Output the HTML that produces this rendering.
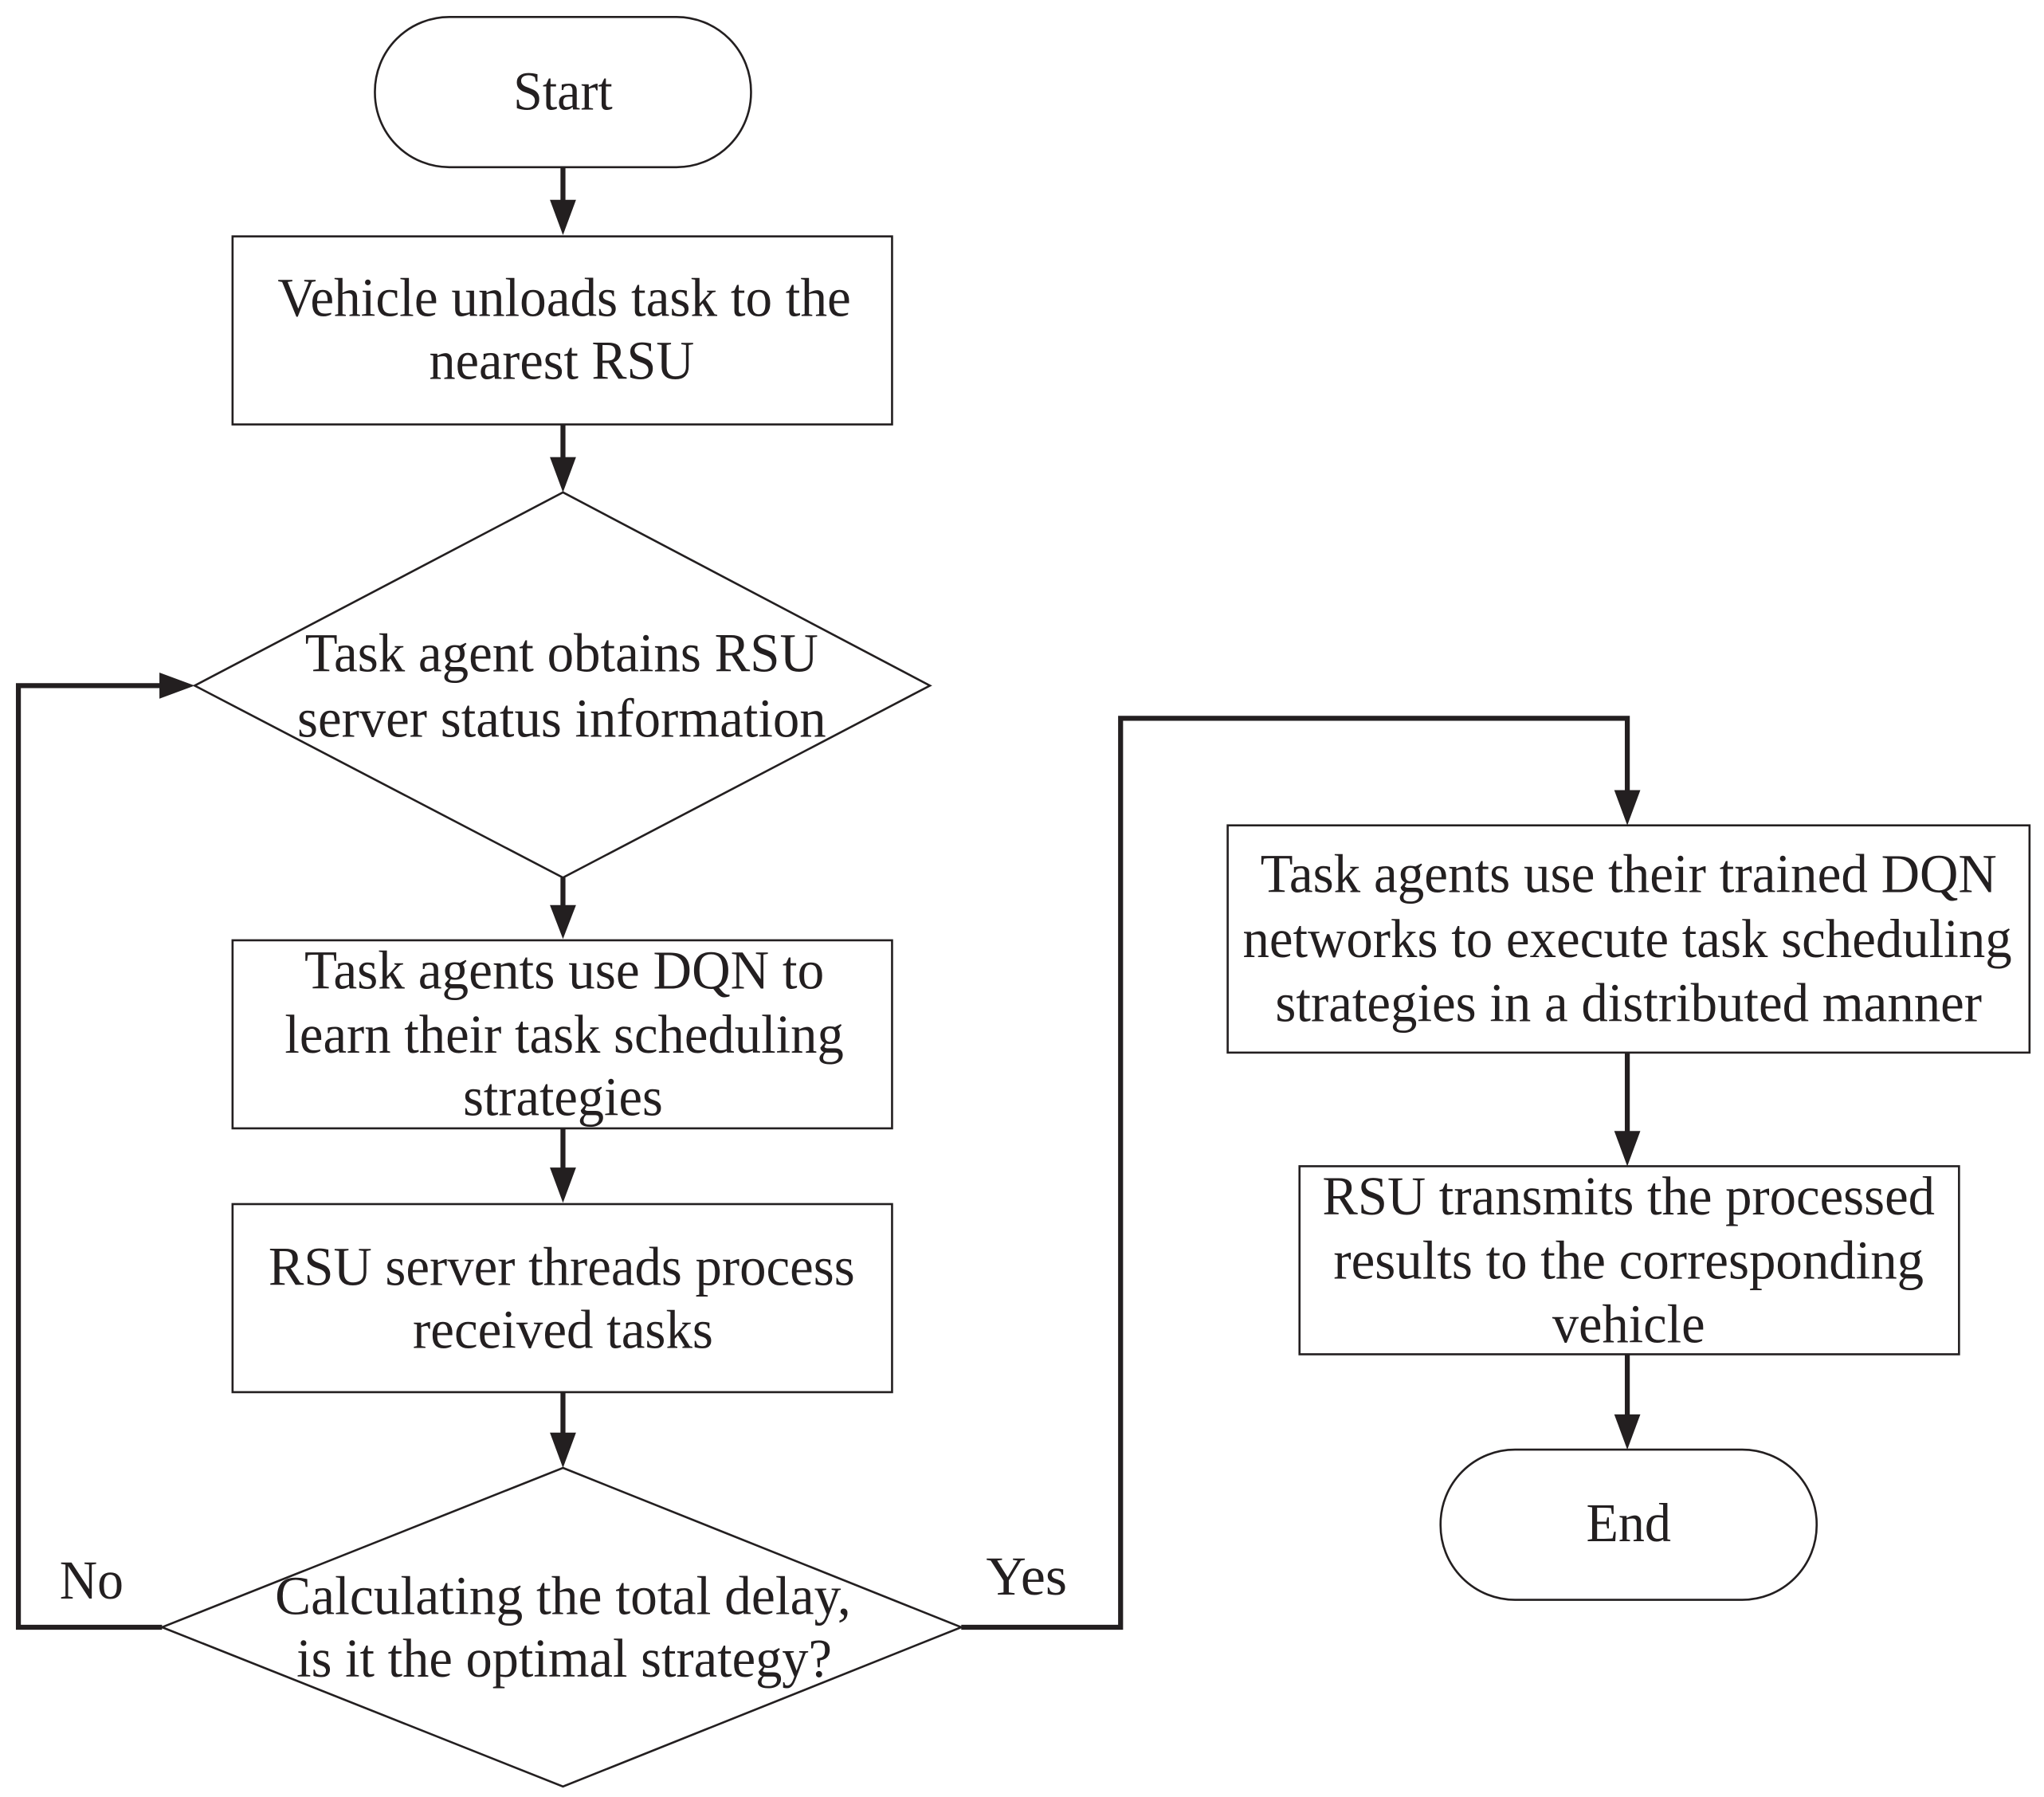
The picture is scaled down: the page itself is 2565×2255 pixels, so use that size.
<!DOCTYPE html>
<html><head><style>html,body{margin:0;padding:0;background:#fff}svg{display:block}</style></head>
<body>
<svg width="2565" height="2255" viewBox="0 0 1565 1376" xmlns="http://www.w3.org/2000/svg">
<g fill="none" stroke="#231f20" stroke-width="1.6">
<rect x="287" y="13" width="288" height="115" rx="57" ry="57"/>
<rect x="178" y="181" width="505" height="144"/>
<polygon points="431,377 712,525 431,672 149,525"/>
<rect x="178" y="720" width="505" height="144"/>
<rect x="178" y="922" width="505" height="144"/>
<polygon points="431,1124 736,1246 431,1368 124,1246"/>
<rect x="940" y="632" width="614" height="174"/>
<rect x="995" y="893" width="505" height="144"/>
<rect x="1103" y="1110" width="288" height="115" rx="57" ry="57"/>
</g>
<g fill="#231f20">
<path d="M431,128 V172" stroke="#231f20" stroke-width="3.8"/>
<polygon points="421,153 441,153 431,180"/>
<path d="M431,325 V369" stroke="#231f20" stroke-width="3.8"/>
<polygon points="421,350 441,350 431,377"/>
<path d="M431,672 V711" stroke="#231f20" stroke-width="3.8"/>
<polygon points="421,693 441,693 431,719"/>
<path d="M431,864 V913" stroke="#231f20" stroke-width="3.8"/>
<polygon points="421,894 441,894 431,921"/>
<path d="M431,1066 V1116" stroke="#231f20" stroke-width="3.8"/>
<polygon points="421,1097 441,1097 431,1124"/>
<path d="M124,1246 H14 V525 H140" fill="none" stroke="#231f20" stroke-width="3.8"/>
<polygon points="122,515 122,535 149,525"/>
<path d="M736,1246 H858 V550 H1246 V622" fill="none" stroke="#231f20" stroke-width="3.8"/>
<polygon points="1236,605 1256,605 1246,632"/>
<path d="M1246,806 V885" stroke="#231f20" stroke-width="3.8"/>
<polygon points="1236,866 1256,866 1246,893"/>
<path d="M1246,1037 V1102" stroke="#231f20" stroke-width="3.8"/>
<polygon points="1236,1083 1256,1083 1246,1110"/>
</g>
<g font-family="Liberation Serif, serif" font-size="42" fill="#231f20" text-anchor="middle">
<text x="431" y="84" textLength="76" lengthAdjust="spacingAndGlyphs">Start</text>
<text x="432" y="242" textLength="439" lengthAdjust="spacingAndGlyphs">Vehicle unloads task to the</text>
<text x="430" y="290" textLength="203" lengthAdjust="spacingAndGlyphs">nearest RSU</text>
<text x="430" y="514" textLength="393" lengthAdjust="spacingAndGlyphs">Task agent obtains RSU</text>
<text x="430" y="564" textLength="405" lengthAdjust="spacingAndGlyphs">server status information</text>
<text x="432" y="757" textLength="398" lengthAdjust="spacingAndGlyphs">Task agents use DQN to</text>
<text x="432" y="806" textLength="428" lengthAdjust="spacingAndGlyphs">learn their task scheduling</text>
<text x="431" y="854" textLength="153" lengthAdjust="spacingAndGlyphs">strategies</text>
<text x="430" y="984" textLength="449" lengthAdjust="spacingAndGlyphs">RSU server threads process</text>
<text x="431" y="1032" textLength="230" lengthAdjust="spacingAndGlyphs">received tasks</text>
<text x="431" y="1236" textLength="441" lengthAdjust="spacingAndGlyphs">Calculating the total delay,</text>
<text x="432" y="1284" textLength="410" lengthAdjust="spacingAndGlyphs">is it the optimal strategy?</text>
<text x="70" y="1224" textLength="49" lengthAdjust="spacingAndGlyphs">No</text>
<text x="786" y="1221" textLength="62" lengthAdjust="spacingAndGlyphs">Yes</text>
<text x="1247" y="683" textLength="564" lengthAdjust="spacingAndGlyphs">Task agents use their trained DQN</text>
<text x="1246" y="733" textLength="589" lengthAdjust="spacingAndGlyphs">networks to execute task scheduling</text>
<text x="1247" y="782" textLength="541" lengthAdjust="spacingAndGlyphs">strategies in a distributed manner</text>
<text x="1247" y="930" textLength="469" lengthAdjust="spacingAndGlyphs">RSU transmits the processed</text>
<text x="1247" y="979" textLength="452" lengthAdjust="spacingAndGlyphs">results to the corresponding</text>
<text x="1247" y="1028" textLength="117" lengthAdjust="spacingAndGlyphs">vehicle</text>
<text x="1247" y="1180" textLength="65" lengthAdjust="spacingAndGlyphs">End</text>
</g>
</svg>
</body></html>
